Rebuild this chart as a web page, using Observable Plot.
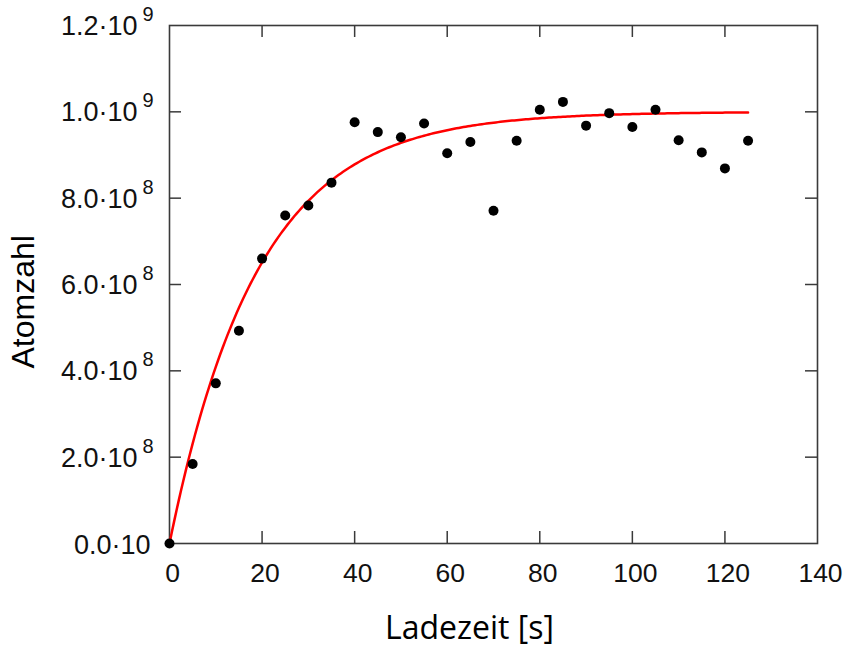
<!DOCTYPE html>
<html>
<head>
<meta charset="utf-8">
<script src="https://cdn.jsdelivr.net/npm/d3@7"></script>
<script src="https://cdn.jsdelivr.net/npm/@observablehq/plot@0.6"></script>
<style>
  html, body { margin: 0; padding: 0; background: #fff; }
</style>
</head>
<body>
<div id="chart"></div>
<script>
// Measured data (loading time in s, atom number)
const loadTimes = [0, 5, 10, 15, 20, 25, 30, 35, 40, 45, 50, 55, 60, 65, 70, 75, 80, 85, 90, 95, 100, 105, 110, 115, 120, 125];
const atomNumbers = [0, 1.84e8, 3.71e8, 4.93e8, 6.60e8, 7.60e8, 7.83e8, 8.36e8, 9.76e8, 9.53e8, 9.41e8, 9.73e8, 9.04e8, 9.30e8, 7.71e8, 9.33e8, 1.005e9, 1.023e9, 9.68e8, 9.97e8, 9.65e8, 1.005e9, 9.34e8, 9.06e8, 8.69e8, 9.33e8];

// Fit model N(t) = N0 * (1 - exp(-t / tau)) parameters
const fitN0 = 1.0e9;
const fitTau = 19;
const fitTEnd = 125;

// Tick labels
const xTicks = [0, 20, 40, 60, 80, 100, 120, 140];
const yTicks = [0, 2e8, 4e8, 6e8, 8e8, 1e9, 1.2e9];
const yMantissa = ["0.0·10", "2.0·10", "4.0·10", "6.0·10", "8.0·10", "1.0·10", "1.2·10"];
const yExponent = ["", "8", "8", "8", "8", "9", "9"];

const xLabel = "Ladezeit [s]";
const yLabel = "Atomzahl";

const points = loadTimes.map((t, i) => ({t, n: atomNumbers[i]}));
const fit = d3.range(0, fitTEnd + 0.001, 0.5).map(t => ({t, n: fitN0 * (1 - Math.exp(-t / fitTau))}));
const yTickRows = yTicks.map((v, i) => ({v, m: yMantissa[i], e: yExponent[i]}));

const W = 846, H = 650;
const mL = 169, mR = 29, mT = 25, mB = 107;
const innerW = W - mL - mR, innerH = H - mT - mB;
const tl = 12;
const axisColor = "#3a3a3a";
const tickFont = "'Liberation Sans', Arial, sans-serif";

const chart = Plot.plot({
  width: W,
  height: H,
  marginLeft: mL,
  marginRight: mR,
  marginTop: mT,
  marginBottom: mB,
  x: {domain: [0, 140], axis: null},
  y: {domain: [0, 1.2e9], axis: null},
  style: {background: "#fff", overflow: "visible"},
  marks: [
    // inward ticks
    Plot.ruleX(xTicks.slice(1, -1), {x: d => d, insetTop: innerH - tl, stroke: axisColor, strokeWidth: 1.5}),
    Plot.ruleX(xTicks.slice(1, -1), {x: d => d, insetBottom: innerH - tl, stroke: axisColor, strokeWidth: 1.5}),
    Plot.ruleY(yTicks.slice(1, -1), {y: d => d, insetRight: innerW - tl, stroke: axisColor, strokeWidth: 1.5}),
    Plot.ruleY(yTicks.slice(1, -1), {y: d => d, insetLeft: innerW - tl, stroke: axisColor, strokeWidth: 1.5}),
    Plot.frame({stroke: axisColor, strokeWidth: 1.6}),
    // fit curve
    Plot.line(fit, {x: "t", y: "n", stroke: "#ff0000", strokeWidth: 2.5}),
    // data points
    Plot.dot(points, {x: "t", y: "n", r: 5, fill: "#000", stroke: "none"}),
    // x tick labels
    Plot.text(xTicks, {x: d => d, frameAnchor: "bottom", dx: 3, dy: 30, text: d => String(d), lineAnchor: "middle", fontSize: 26.5, fontFamily: tickFont, fill: "#111"}),
    // y tick labels (mantissa)
    Plot.text(yTickRows.filter(d => d.e !== ""), {y: "v", frameAnchor: "left", dx: -32, dy: 1, text: "m", textAnchor: "end", lineAnchor: "middle", fontSize: 27, fontFamily: tickFont, fill: "#111"}),
    Plot.text(yTickRows.filter(d => d.e === ""), {y: "v", frameAnchor: "left", dx: -19, dy: 2, text: "m", textAnchor: "end", lineAnchor: "middle", fontSize: 27, fontFamily: tickFont, fill: "#111"}),
    // y tick labels (exponent)
    Plot.text(yTickRows.filter(d => d.e !== ""), {y: "v", frameAnchor: "left", dx: -16, dy: -11, text: "e", textAnchor: "end", lineAnchor: "middle", fontSize: 20, fontFamily: tickFont, fill: "#111"}),
    // axis titles
    Plot.text([xLabel], {frameAnchor: "bottom", dx: -24, dy: 95, text: d => d, lineAnchor: "bottom", fontSize: 32, fontFamily: "'Open Sans', sans-serif", fill: "#000"}),
    Plot.text([yLabel], {frameAnchor: "left", dx: -146, dy: 84, text: d => d, rotate: -90, lineAnchor: "middle", fontSize: 32, fontFamily: tickFont, fill: "#000"})
  ]
});

document.getElementById("chart").appendChild(chart);
</script>
</body>
</html>
